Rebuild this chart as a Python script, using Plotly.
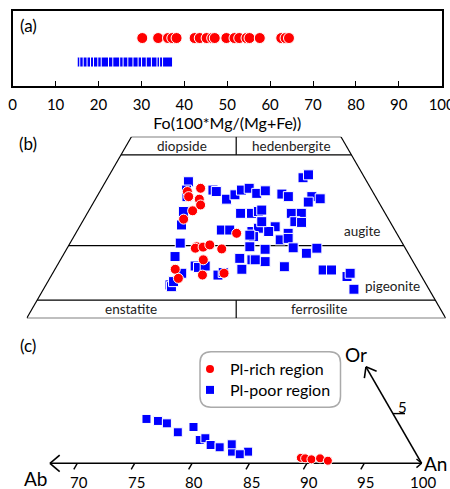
import math
import plotly.graph_objects as go

FONT = "Lato"
RED = "#FF0000"
BLUE = "#0000FF"
S3 = math.sqrt(3) / 2

# ---------------- Panel (a): Fo values ----------------
fo_pl_rich = [30.2, 33.9, 36.2, 37.2, 38.2, 42.4, 43.6, 45.2, 46.5, 47.1, 49.8,
              51.7, 52.8, 54.5, 55.2, 57.6, 62.6, 63.6, 64.4]
fo_pl_poor = [16.2, 16.8, 17.6, 18.5, 19.3, 20.0, 21.0, 21.8, 23.5, 24.5, 26.1,
              26.9, 28.0, 29.2, 30.4, 31.2, 32.3, 33.5, 34.8, 35.4, 36.1]
fo_ticks = list(range(0, 101, 10))

# ---------------- Panel (b): pyroxene quadrilateral (Wo, Fs) ----------------
wo_poor = [37.6, 35.3, 33.5, 35.3, 34.9, 32.8, 34.0, 35.3, 35.8, 34.4, 29.4, 25.7,
           28.9, 28.9, 29.4, 24.3, 24.3, 23.9, 38.7, 39.5, 35.1, 34.2, 33.5, 33.5,
           32.9, 32.0, 29.8, 28.9, 28.9, 26.6, 26.4, 24.8, 25.2, 23.9, 23.4, 22.5,
           21.6, 22.0, 19.4, 19.7, 19.0, 16.5, 16.1, 15.6, 13.5, 14.2, 17.9, 19.3,
           13.3, 13.3, 11.5, 12.4, 8.0, 20.7, 17.0, 14.4, 14.0, 14.4, 11.9, 12.6,
           12.4, 9.2, 8.7, 10.1, 22.9, 16.1, 26.6]
fs_poor = [19.8, 20.5, 21.5, 26.8, 27.8, 31.3, 32.7, 33.6, 35.2, 37.7, 22.7, 24.1,
           36.6, 39.2, 40.6, 34.3, 36.3, 41.8, 46.6, 47.5, 39.4, 43.8, 45.7, 51.3,
           53.6, 51.2, 41.2, 48.7, 51.1, 50.7, 52.4, 42.9, 46.7, 45.8, 50.7, 42.9,
           49.7, 51.4, 53.9, 43.4, 47.4, 42.6, 45.7, 49.1, 44.6, 54.4, 57.8, 59.6,
           64.1, 66.1, 70.7, 71.0, 74.1, 26.3, 26.9, 33.0, 34.0, 35.4, 39.7, 40.6,
           30.8, 29.6, 30.2, 30.0, 41.8, 46.5, 42.8]
wo_rich = [34.9, 33.5, 35.8, 32.8, 31.2, 29.6, 27.3, 23.4, 19.7, 19.3, 19.6, 20.2,
           19.1, 16.1, 13.5, 11.0, 11.9, 12.4]
fs_rich = [20.9, 21.9, 23.6, 24.8, 25.9, 24.8, 23.8, 38.4, 30.7, 30.6, 32.3, 33.6,
           37.0, 34.1, 28.7, 30.7, 36.0, 40.9]
quad_labels = ["diopside", "hedenbergite", "augite", "pigeonite", "enstatite", "ferrosilite"]

# ---------------- Panel (c): feldspar An-Ab-Or ----------------
an_poor = [73.8, 74.9, 75.8, 77.2, 78.3, 79.5, 79.9, 80.7, 81.6, 82.9, 82.5, 84.3, 83.7]
or_poor = [4.46, 4.26, 4.02, 3.12, 3.65, 2.34, 2.52, 1.84, 1.61, 1.17, 1.91, 1.17, 0.91]
an_rich = [89.2, 89.6, 90.2, 90.9, 91.7]
or_rich = [0.55, 0.50, 0.40, 0.50, 0.26]
an_ticks = [70, 75, 80, 85, 90, 95, 100]
or_ticks = [5]


def quad_xy(wo, fs):
    return fs + wo / 2.0, wo * S3


def tern_xy(an, orr):
    return an + orr / 2.0, orr * S3


fig = go.Figure()

# ---- (a)
fig.add_trace(go.Scatter(
    x=fo_pl_poor, y=[1] * len(fo_pl_poor), mode="markers", xaxis="x", yaxis="y",
    marker=dict(symbol="square", size=10, color=BLUE, line=dict(color="white", width=1)),
    showlegend=False, cliponaxis=False))
fig.add_trace(go.Scatter(
    x=fo_pl_rich, y=[2] * len(fo_pl_rich), mode="markers", xaxis="x", yaxis="y",
    marker=dict(symbol="circle", size=11, color=RED, line=dict(color="white", width=1)),
    showlegend=False, cliponaxis=False))

# ---- (b)
bx_p, by_p = zip(*[quad_xy(w, f) for w, f in zip(wo_poor, fs_poor)])
bx_r, by_r = zip(*[quad_xy(w, f) for w, f in zip(wo_rich, fs_rich)])
fig.add_trace(go.Scatter(
    x=bx_p, y=by_p, mode="markers", xaxis="x2", yaxis="y2",
    marker=dict(symbol="square", size=10, color=BLUE, line=dict(color="white", width=1)),
    showlegend=False))
fig.add_trace(go.Scatter(
    x=bx_r, y=by_r, mode="markers", xaxis="x2", yaxis="y2",
    marker=dict(symbol="circle", size=10, color=RED, line=dict(color="white", width=1)),
    showlegend=False))

# ---- (c)
cx_p, cy_p = zip(*[tern_xy(a, o) for a, o in zip(an_poor, or_poor)])
cx_r, cy_r = zip(*[tern_xy(a, o) for a, o in zip(an_rich, or_rich)])
fig.add_trace(go.Scatter(
    x=cx_p, y=cy_p, mode="markers", xaxis="x3", yaxis="y3",
    marker=dict(symbol="square", size=9, color=BLUE, line=dict(color="white", width=1)),
    showlegend=False))
fig.add_trace(go.Scatter(
    x=cx_r, y=cy_r, mode="markers", xaxis="x3", yaxis="y3",
    marker=dict(symbol="circle", size=9, color=RED, line=dict(color="white", width=1)),
    showlegend=False))
# legend entries
fig.add_trace(go.Scatter(
    x=[None], y=[None], mode="markers", xaxis="x3", yaxis="y3", name="Pl-rich region",
    marker=dict(symbol="circle", size=8, color=RED), legend="legend"))
fig.add_trace(go.Scatter(
    x=[None], y=[None], mode="markers", xaxis="x3", yaxis="y3", name="Pl-poor region",
    marker=dict(symbol="square", size=8, color=BLUE), legend="legend2"))

shapes = []


def seg(x0, y0, x1, y1, ax, width=1.2, color="black"):
    shapes.append(dict(type="line", xref="x" + ax, yref="y" + ax, x0=x0, y0=y0, x1=x1, y1=y1,
                       line=dict(color=color, width=width), layer="below"))


# quadrilateral outline
corners = [(0, 0), (0, 100), (50, 50), (50, 0), (0, 0)]
for (w0, f0), (w1, f1) in zip(corners[:-1], corners[1:]):
    x0, y0 = quad_xy(w0, f0)
    x1, y1 = quad_xy(w1, f1)
    seg(x0, y0, x1, y1, "2")
for wo in (5, 20, 45):
    x0, y0 = quad_xy(wo, 0)
    x1, y1 = quad_xy(wo, 100 - wo)
    seg(x0, y0, x1, y1, "2")
seg(50, 45 * S3, 50, 50 * S3, "2")
seg(50, 0, 50, 5 * S3, "2")

# ternary (c) axes
ab_tip = 67.62
seg(ab_tip, 0, 100, 0, "3", width=1.6)
seg(ab_tip, 0, ab_tip + 0.85, 0.72, "3", width=1.6)
seg(ab_tip, 0, ab_tip + 0.85, -0.72, "3", width=1.6)
seg(100, 0, 99.55, 0.38, "3", width=1.4)
seg(100, 0, 99.55, -0.38, "3", width=1.4)
or_tip = 9.7
tx, ty = tern_xy(100 - or_tip, or_tip)
seg(100, 0, tx, ty, "3", width=1.6)
for ang in (-22, -98):
    r = math.radians(ang)
    seg(tx, ty, tx + 1.0 * math.cos(r), ty + 1.0 * math.sin(r), "3", width=1.6)
for v in an_ticks[:-1]:
    seg(v, 0, v - 0.3, -0.53, "3", width=1.4)
for v in or_ticks:
    x0, y0 = tern_xy(100 - v, v)
    seg(x0, y0, x0 + 1.05, y0, "3", width=1.4)

# legend rounded box (paper coords)
lx0, lx1, ly0, ly1 = 200 / 450, 340.5 / 450, 1 - 407.3 / 489, 1 - 351.7 / 489
rx, ry = 11 / 450, 11 / 489
path = (f"M {lx0 + rx},{ly0} L {lx1 - rx},{ly0} Q {lx1},{ly0} {lx1},{ly0 + ry} "
        f"L {lx1},{ly1 - ry} Q {lx1},{ly1} {lx1 - rx},{ly1} L {lx0 + rx},{ly1} "
        f"Q {lx0},{ly1} {lx0},{ly1 - ry} L {lx0},{ly0 + ry} Q {lx0},{ly0} {lx0 + rx},{ly0} Z")
shapes.append(dict(type="path", xref="paper", yref="paper", path=path,
                   line=dict(color="#AAAAAA", width=1.5), fillcolor="white", layer="below"))

annotations = []


def txt(x, y, s, ref, size, color="black"):
    annotations.append(dict(x=x, y=y, xref=ref[0], yref=ref[1], text=s, showarrow=False,
                            xanchor="center", yanchor="middle",
                            font=dict(family=FONT, size=size, color=color)))


txt(28 / 450, 1 - 25 / 489, "(a)", ("paper", "paper"), 17)
txt(28 / 450, 1 - 143 / 489, "(b)", ("paper", "paper"), 17)
txt(28 / 450, 1 - 345 / 489, "(c)", ("paper", "paper"), 17)

label_pos = [(37.0, 41.1), (63.3, 41.1), (80.0, 20.8), (87.2, 7.7), (25.0, 2.2), (69.8, 2.2)]
for s, (x, y) in zip(quad_labels, label_pos):
    txt(x, y, s, ("x2", "y2"), 13.5, "#222222")

for v in an_ticks:
    txt(v + 0.15, -1.64, str(v), ("x3", "y3"), 15)
for v in or_ticks:
    x0, y0 = tern_xy(100 - v, v)
    txt(x0 + 0.8, y0 + 0.6, str(v), ("x3", "y3"), 15)
txt(94.25, 9.5, "Or", ("x3", "y3"), 19)
txt(101.23, 0.0, "An", ("x3", "y3"), 19)
txt(66.39, -1.31, "Ab", ("x3", "y3"), 19)

leg_common = dict(xanchor="left", yanchor="top", bgcolor="rgba(0,0,0,0)", borderwidth=0,
                  font=dict(family=FONT, size=16, color="black"))

fig.update_layout(
    width=450, height=489, margin=dict(l=0, r=0, t=0, b=0),
    paper_bgcolor="white", plot_bgcolor="rgba(0,0,0,0)",
    font=dict(family=FONT, color="black"),
    xaxis=dict(domain=[12.7 / 450, 441.7 / 450], range=[0, 100], anchor="y",
               showline=True, mirror=True, linecolor="black", linewidth=1.5,
               ticks="inside", ticklen=5, tickwidth=1, tickcolor="black",
               tickmode="array", tickvals=fo_ticks, ticklabelstandoff=4,
               ticklabeloverflow="allow",
               showgrid=False, zeroline=False, automargin=False,
               tickfont=dict(family=FONT, size=15, color="black"),
               title=dict(text="Fo(100*Mg/(Mg+Fe))", standoff=0,
                          font=dict(family=FONT, size=16, color="black"))),
    yaxis=dict(domain=[1 - 86 / 489, 1 - 10.7 / 489], range=[0, 3.14], anchor="x",
               showline=True, mirror=True, linecolor="black", linewidth=1.5,
               showticklabels=False, ticks="", showgrid=False, zeroline=False,
               automargin=False),
    xaxis2=dict(domain=[26.7 / 450, 445.7 / 450], range=[0, 100], anchor="y2",
                visible=False),
    yaxis2=dict(domain=[1 - 318.3 / 489, 1 - 136.7 / 489], range=[0, 50 * S3],
                anchor="x2", visible=False),
    xaxis3=dict(domain=[0, 1], range=[63.27, 102.47], anchor="y3", visible=False),
    yaxis3=dict(domain=[0, 1 - 340 / 489], range=[-2.239, 10.74], anchor="x3",
                visible=False),
    legend=dict(x=190 / 450, y=1 - 352 / 489, **leg_common),
    legend2=dict(x=190 / 450, y=1 - 373 / 489, **leg_common),
    shapes=shapes, annotations=annotations,
)

fig.write_html("out.html", config={"displayModeBar": False},
               post_script="document.body.style.margin='0px';document.body.style.overflow='hidden';")
